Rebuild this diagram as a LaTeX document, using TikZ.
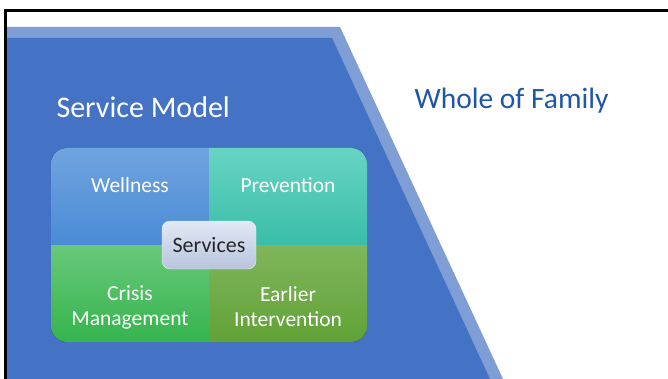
\documentclass[tikz,border=0pt]{standalone}
\usepackage{fontspec}
\setmainfont{Carlito}
\usepackage{tikz}
\usepackage{xcolor}
\usetikzlibrary{shapes,positioning}

\definecolor{bandblue}{HTML}{7F9ED5}
\definecolor{slideblue}{HTML}{4472C4}
\definecolor{headblue}{HTML}{1F56A8}
\definecolor{wellA}{HTML}{70A4DE}
\definecolor{wellB}{HTML}{4A8BD6}
\definecolor{prevA}{HTML}{68D4C3}
\definecolor{prevB}{HTML}{3ABDA9}
\definecolor{crisA}{HTML}{68C97A}
\definecolor{crisB}{HTML}{35B44D}
\definecolor{earlA}{HTML}{80B65C}
\definecolor{earlB}{HTML}{60A235}
\definecolor{coreA}{HTML}{E2E9F6}
\definecolor{coreB}{HTML}{B8C5DD}

\begin{document}
\begin{tikzpicture}[x=1pt,y=-1pt,
    label/.style={text=white,align=center,font=\fontsize{21.5}{25}\selectfont},
    core/.style={rounded corners=8pt,minimum width=94pt,minimum height=48pt,
                 top color=coreA,bottom color=coreB,draw=white!85!gray,
                 font=\fontsize{22}{25}\selectfont,text=black!85}]
    \useasboundingbox (0,0) rectangle (668,379);
    \fill[white] (0,0) rectangle (668,379);
    % slide panel
    \fill[bandblue] (5,27) -- (340,27) -- (503,379) -- (5,379) -- cycle;
    \fill[slideblue] (5,38) -- (332,38) -- (490,379) -- (5,379) -- cycle;
    \draw[line width=2.5pt] (5.5,379) -- (5.5,10.5) -- (668,10.5);
    % headings
    \node[text=white,font=\fontsize{30}{34}\selectfont,anchor=west] (model) at (53,107) {Service Model};
    \node[text=headblue,font=\fontsize{29.5}{33}\selectfont,anchor=west] (family) at (411,101) {Whole of Family};
    % quadrants
    \begin{scope}
        \clip[rounded corners=16pt] (51,148) rectangle (367,342);
        \fill[top color=wellA,bottom color=wellB] (51,148) rectangle (209,245);
        \fill[top color=prevA,bottom color=prevB] (209,148) rectangle (367,245);
        \fill[top color=crisA,bottom color=crisB] (51,245) rectangle (209,342);
        \fill[top color=earlA,bottom color=earlB] (209,245) rectangle (367,342);
    \end{scope}
    \node[label] (wellness) at (130,185) {Wellness};
    \node[label] (prevention) at (288,185) {Prevention};
    \node[label] (crisis) at (130,307) {Crisis\\Management};
    \node[label] (earlier) at (288,307) {Earlier\\Intervention};
    \node[core] (services) at (209,245) {Services};
\end{tikzpicture}
\end{document}
